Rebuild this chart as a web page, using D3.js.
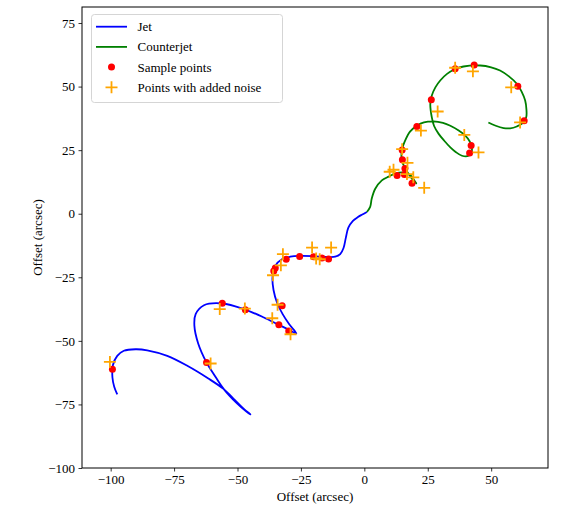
<!DOCTYPE html>
<html>
<head>
<meta charset="utf-8">
<script src="https://cdn.jsdelivr.net/npm/d3@7"></script>
<style>
    body { margin: 0; background: #fff; }
    svg text { font-family: "Liberation Serif", "Times New Roman", serif !important; }
</style>
</head>
<body>
<div id="chart"></div>
<script>
// jet path (from the core outward)
var jetX = [1.0, -1.0, -2.5, -4.5, -6.3, -7.3, -8.2, -9.5, -11.5, -14.8, -20.0, -25.3, -29.2, -32.5, -35.1, -36.2, -35.8,
    -34.4, -32.2, -29.6, -26.8, -29.8, -33.7, -39.6, -47.5, -56.0, -63.2, -66.5, -67.0, -65.5, -62.2, -59.4, -55.4,
    -50.3, -46.5, -44.9, -47.5, -51.0, -55.4, -61.5, -69.8, -77.7, -85.6, -90.2, -94.8, -97.4, -99.1, -99.3, -98.6, -97.4];
var jetY = [0.7, -0.4, -1.3, -2.8, -5.5, -9.5, -13.5, -15.9, -16.9, -17.0, -16.7, -16.6, -16.9, -17.9, -20.5, -25.0, -30.0,
    -35.0, -39.5, -43.5, -47.1, -45.6, -43.7, -40.8, -37.5, -35.3, -36.0, -39.5, -44.0, -51.0, -58.5, -63.0, -69.0,
    -74.5, -77.8, -78.9, -76.8, -73.3, -69.0, -64.8, -59.8, -55.9, -53.7, -53.3, -53.9, -55.9, -59.5, -64.4, -68.0, -71.0];

// counterjet path
var cjetX = [1.0, 2.3, 2.9, 4.3, 6.9, 9.6, 12.2, 15.5, 18.1, 20.1, 20.5, 19.0, 17.5, 16.0, 14.8, 14.8, 16.2, 18.0,
    20.7, 23.5, 27.3, 31.0, 33.9, 37.2, 39.8, 41.5, 42.4, 42.2, 41.1, 38.5, 36.0, 33.9, 31.5, 29.3, 27.5, 26.6, 26.0,
    26.6, 28.0, 30.0, 32.6, 35.7, 39.1, 45.7, 50.0, 53.5, 57.0, 60.1, 62.0, 63.4, 63.9, 63.8, 62.3, 60.1, 57.5, 54.9, 51.8, 48.9];
var cjetY = [0.7, 2.7, 5.9, 9.8, 13.1, 14.6, 15.8, 16.2, 15.2, 12.5, 11.9, 13.5, 15.5, 18.0, 21.0, 25.0, 29.0, 32.3,
    34.6, 35.9, 36.3, 35.7, 34.6, 32.7, 30.7, 28.5, 26.1, 24.2, 22.8, 22.8, 24.3, 26.1, 28.7, 31.4, 34.5, 37.9, 43.2,
    46.5, 49.7, 52.5, 55.0, 56.8, 57.9, 58.3, 57.6, 56.3, 54.0, 51.1, 48.0, 44.5, 41.0, 37.9, 35.5, 34.3, 33.6, 33.7, 34.6, 35.9];

// sample points
var sampleX = [-30.8, -25.5, -20.0, -16.7, -14.1, -35.1, -35.7, -32.4, -33.7, -29.8, -56.0, -46.9, -62.2, -99.3,
    14.9, 15.0, 16.0, 15.8, 12.9, 18.8, 20.7, 26.4, 35.8, 43.3, 60.5, 63.0, 42.1, 41.5];
var sampleY = [-17.9, -16.8, -16.9, -17.4, -17.8, -21.3, -22.5, -36.2, -43.7, -46.1, -35.2, -37.8, -58.5, -61.2,
    25.1, 21.2, 17.8, 15.4, 15.0, 12.0, 34.3, 44.8, 57.0, 58.5, 50.1, 36.6, 26.8, 23.9];

// points with added noise
var noisyX = [-32.1, -20.6, -13.1, -17.6, -19.0, -32.9, -36.0, -34.2, -36.3, -29.1, -57.0, -47.1, -60.6, -100.3,
    14.9, 17.0, 11.5, 10.0, 16.8, 19.3, 23.6, 22.3, 28.9, 35.8, 42.8, 57.9, 61.4, 39.4, 45.0];
var noisyY = [-15.9, -13.3, -13.3, -17.9, -17.6, -20.3, -24.2, -35.8, -41.1, -47.4, -37.5, -37.3, -58.9, -58.3,
    25.4, 20.0, 17.3, 16.5, 15.6, 14.3, 10.2, 32.7, 40.2, 57.4, 56.0, 49.7, 35.9, 31.0, 24.1];

var xTicks = [-100, -75, -50, -25, 0, 25, 50];
var yTicks = [-100, -75, -50, -25, 0, 25, 50, 75];
var xDomain = [-111.3, 72.4];
var yDomain = [-100, 81.3];

var W = 562, H = 505;
var plot = { left: 82, right: 548, top: 7, bottom: 468 };
var serif = "'Liberation Serif', 'Times New Roman', serif";

var svg = d3.select("#chart").append("svg")
    .attr("width", W)
    .attr("height", H);

var x = d3.scaleLinear().domain(xDomain).range([plot.left, plot.right]);
var y = d3.scaleLinear().domain(yDomain).range([plot.bottom, plot.top]);

function toPoints(xs, ys) {
    return xs.map(function (v, i) { return [v, ys[i]]; });
}

var line = d3.line()
    .x(function (d) { return x(d[0]); })
    .y(function (d) { return y(d[1]); })
    .curve(d3.curveCatmullRom.alpha(0.5));

// lines
svg.append("path")
    .datum(toPoints(jetX, jetY))
    .attr("d", line)
    .attr("fill", "none")
    .attr("stroke", "blue")
    .attr("stroke-width", 1.8);

svg.append("path")
    .datum(toPoints(cjetX, cjetY))
    .attr("d", line)
    .attr("fill", "none")
    .attr("stroke", "green")
    .attr("stroke-width", 1.8);

// sample points
svg.selectAll(".sample")
    .data(toPoints(sampleX, sampleY))
    .enter().append("circle")
    .attr("class", "sample")
    .attr("cx", function (d) { return x(d[0]); })
    .attr("cy", function (d) { return y(d[1]); })
    .attr("r", 3.5)
    .attr("fill", "red");

// noisy points as "+"
function plusPath(cx, cy, s) {
    return "M" + (cx - s) + "," + cy + "H" + (cx + s) + "M" + cx + "," + (cy - s) + "V" + (cy + s);
}
svg.selectAll(".noisy")
    .data(toPoints(noisyX, noisyY))
    .enter().append("path")
    .attr("class", "noisy")
    .attr("d", function (d) { return plusPath(x(d[0]), y(d[1]), 6); })
    .attr("stroke", "orange")
    .attr("stroke-width", 1.8)
    .attr("fill", "none");

// axes
var xAxis = svg.append("g")
    .attr("transform", "translate(0," + plot.bottom + ")")
    .call(d3.axisBottom(x).tickValues(xTicks).tickSize(3.5).tickPadding(3.5));
var yAxis = svg.append("g")
    .attr("transform", "translate(" + plot.left + ",0)")
    .call(d3.axisLeft(y).tickValues(yTicks).tickSize(3.5).tickPadding(3.5));

[xAxis, yAxis].forEach(function (g) {
    g.attr("font-family", null).attr("font-size", null);
    g.select(".domain").remove();
    g.selectAll("text")
        .style("font-size", "13px")
        .style("font-family", serif)
        .attr("fill", "#000");
    g.selectAll("line").attr("stroke", "#000").attr("stroke-width", 0.8);
});

// frame
svg.append("rect")
    .attr("x", plot.left)
    .attr("y", plot.top)
    .attr("width", plot.right - plot.left)
    .attr("height", plot.bottom - plot.top)
    .attr("fill", "none")
    .attr("stroke", "#000")
    .attr("stroke-width", 1);

// axis labels
svg.append("text")
    .attr("x", (plot.left + plot.right) / 2)
    .attr("y", 501)
    .attr("text-anchor", "middle")
    .style("font-size", "13px")
    .style("font-family", serif)
    .text("Offset (arcsec)");

svg.append("text")
    .attr("transform", "translate(42," + ((plot.top + plot.bottom) / 2) + ") rotate(-90)")
    .attr("text-anchor", "middle")
    .style("font-size", "13px")
    .style("font-family", serif)
    .text("Offset (arcsec)");

// legend
var legendItems = ["Jet", "Counterjet", "Sample points", "Points with added noise"];
var legend = svg.append("g");
legend.append("rect")
    .attr("x", 91.5)
    .attr("y", 14.5)
    .attr("width", 191)
    .attr("height", 88)
    .attr("rx", 3)
    .attr("fill", "#fff")
    .attr("fill-opacity", 0.8)
    .attr("stroke", "#d5d5d5")
    .attr("stroke-width", 1);

legendItems.forEach(function (name, i) {
    var ly = 26.7 + i * 20.2;
    if (i === 0 || i === 1) {
        legend.append("line")
            .attr("x1", 96).attr("x2", 127)
            .attr("y1", ly).attr("y2", ly)
            .attr("stroke", i === 0 ? "blue" : "green")
            .attr("stroke-width", 1.8);
    } else if (i === 2) {
        legend.append("circle")
            .attr("cx", 111.5).attr("cy", ly).attr("r", 3.5)
            .attr("fill", "red");
    } else {
        legend.append("path")
            .attr("d", plusPath(111.5, ly, 6))
            .attr("stroke", "orange")
            .attr("stroke-width", 1.8)
            .attr("fill", "none");
    }
    legend.append("text")
        .attr("x", 137.5)
        .attr("y", ly)
        .attr("dy", "0.35em")
        .style("font-size", "13px")
        .style("font-family", serif)
        .text(name);
});
</script>
</body>
</html>
